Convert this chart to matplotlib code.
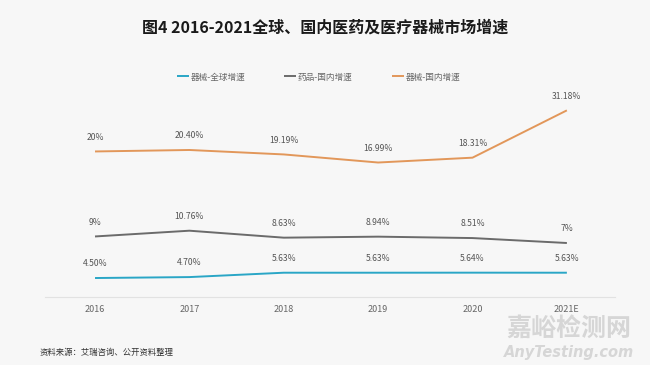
import matplotlib.pyplot as plt

plt.rcParams['font.family'] = ['Noto Sans CJK SC', 'DejaVu Sans']

years = ['2016', '2017', '2018', '2019', '2020', '2021E']
qixie_global = [4.50, 4.70, 5.63, 5.63, 5.64, 5.63]
yaopin_cn = [9, 10.76, 8.63, 8.94, 8.51, 7]
qixie_cn = [20, 20.40, 19.19, 16.99, 18.31, 31.18]

labels_global = ['4.50%', '4.70%', '5.63%', '5.63%', '5.64%', '5.63%']
labels_yaopin = ['9%', '10.76%', '8.63%', '8.94%', '8.51%', '7%']
labels_cn = ['20%', '20.40%', '19.19%', '16.99%', '18.31%', '31.18%']

names = ['器械-全球增速', '药品-国内增速', '器械-国内增速']
colors = ['#2aa6c6', '#6b6b6b', '#e2975a']

bg = '#f7f7f7'
fig = plt.figure(figsize=(6.5, 3.65), dpi=100)
fig.patch.set_facecolor(bg)

rect = [45 / 650, 1 - 297 / 365, 570 / 650, 197 / 365]
ax1 = fig.add_axes(rect)
ax2 = fig.add_axes(rect, sharex=ax1)
ax3 = fig.add_axes(rect, sharex=ax1)

x = list(range(len(years)))
series = [
    (ax1, qixie_global, labels_global, (0.46, 42.4)),
    (ax2, yaopin_cn, labels_yaopin, (-9.5, 50.7)),
    (ax3, qixie_cn, labels_cn, (-19.6, 34.0)),
]

handles = []
for i, (ax, vals, labs, lim) in enumerate(series):
    ax.set_facecolor('none')
    h, = ax.plot(x, vals, color=colors[i], lw=1.4, solid_capstyle='butt')
    handles.append(h)
    ax.set_ylim(*lim)
    ax.set_xlim(-0.53, 5.51)
    for xi, v, t in zip(x, vals, labs):
        ax.annotate(t, (xi, v), xytext=(0, 7), textcoords='offset points',
                    ha='center', va='bottom', fontsize=6.2, color='#555555')
    for s in ax.spines.values():
        s.set_visible(False)
    ax.set_yticks([])
    ax.tick_params(axis='x', length=0)

ax1.set_facecolor(bg)
ax1.spines['bottom'].set_visible(True)
ax1.spines['bottom'].set_color('#e2e2e2')
ax1.set_xticks(x)
ax1.set_xticklabels(years, fontsize=6.5, color='#666666')
ax1.tick_params(axis='x', pad=6)
for ax in (ax2, ax3):
    ax.tick_params(axis='x', labelbottom=False)

fig.text(0.5, 1 - 28 / 365, '图4 2016-2021全球、国内医药及医疗器械市场增速',
         ha='center', va='center', fontsize=11.5, fontweight='bold', color='#1a1a1a')

fig.legend(handles, names, loc='center', bbox_to_anchor=(0.49, 1 - 77 / 365),
           ncol=3, frameon=False, fontsize=6.2, handlelength=1.4, handletextpad=0.2,
           columnspacing=4.5, labelcolor='#666666')

fig.text(40 / 650, 1 - 352 / 365, '资料来源：艾瑞咨询、公开资料整理',
         ha='left', va='center', fontsize=6, color='#333333')

# watermark
fig.text(569 / 650, 1 - 329 / 365, '嘉峪检测网', ha='center', va='center',
         fontsize=18, color='#d6d6d6', fontweight='bold', zorder=0)
fig.text(569 / 650, 1 - 352 / 365, 'AnyTesting.com', ha='center', va='center',
         fontsize=10.5, color='#d6d6d6', fontstyle='italic', fontweight='bold',
         family='DejaVu Sans', zorder=0)

fig.savefig('out.png', dpi=100, facecolor=bg)
